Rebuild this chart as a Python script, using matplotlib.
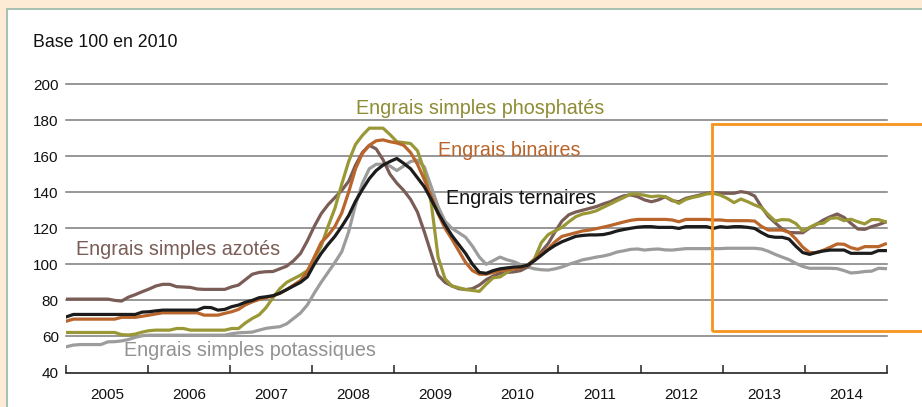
import numpy as np
import matplotlib
matplotlib.use("Agg")
import matplotlib.pyplot as plt
from matplotlib.patches import Rectangle

plt.rcParams['font.family'] = ['Liberation Sans', 'DejaVu Sans']

# ---------------- data (monthly index, base 100 in 2010) ----------------
year_labels = ['2005', '2006', '2007', '2008', '2009', '2010', '2011', '2012', '2013', '2014']
year_starts = [2005, 2006, 2007, 2008, 2009, 2010, 2011, 2012, 2013, 2014, 2015]
y_ticks = [40, 60, 80, 100, 120, 140, 160, 180, 200]

phosphates = [
    62.2, 62.2, 62.2, 62.2, 62.2, 62.2, 62.2, 62.2, 61, 60.8, 61.3, 62.4,
    63.2, 63.5, 63.5, 63.5, 64.4, 64.4, 63.5, 63.5, 63.5, 63.5, 63.5, 63.5,
    64.4, 64.4, 67.5, 70, 72, 76, 81.5, 86.5, 90, 92, 94, 96.5,
    103, 110, 121, 131, 144.5, 157, 166.5, 171.5, 175.5, 175.5, 175.5, 172,
    168, 167.5, 167, 163, 152, 134, 104, 92, 88, 87, 86, 85.5,
    85, 89, 92.5, 93, 95.5, 98, 98.6, 99.5, 103, 112, 116.5, 118.5,
    120.5, 123.6, 126.4, 127.9, 128.6, 129.7, 131.6, 133.4, 135.3, 137.1, 139, 139,
    138.3, 137.5, 137.9, 137.5, 135.7, 133.8, 136, 137.1, 137.9, 139, 139.4, 138.4,
    136.6, 134.2, 136.2, 134.7, 132.9, 131.4, 127.5, 124, 124.8, 124.6, 122.6, 118.5,
    120.5, 122.4, 122.8, 125.5, 125.8, 124.2, 125, 123.6, 122.4, 124.8, 124.8, 123.6,
]
binaires = [
    68.5, 69.6, 69.6, 69.6, 69.6, 69.6, 69.6, 69.6, 70.6, 70.6, 70.6, 71.2,
    71.8, 72.5, 73.1, 73.1, 73.1, 73.1, 73.1, 73.1, 71.8, 71.8, 71.8, 72.8,
    73.7, 75, 77.5, 79.2, 80.5, 81.5, 82.5, 83.9, 86, 88.5, 91, 96,
    104, 112, 116, 121, 128.5, 140, 153, 161.5, 166, 168.5, 169, 168,
    167.3, 166, 162, 155.5, 147, 138, 128, 120, 114, 107.5, 101, 96.5,
    94.5, 94.5, 95.5, 96.5, 97, 97.5, 98, 99.5, 102.5, 106, 108.5, 112.5,
    115.5, 116.5, 117.5, 118.5, 119, 119.8, 120.6, 121.5, 122.5, 123.5, 124.4, 124.9,
    124.9, 124.9, 124.9, 124.9, 124.6, 123.6, 124.9, 124.9, 124.9, 124.9, 124.6, 124.6,
    124.2, 124.2, 124.2, 124.2, 124, 121, 119, 119, 119, 117.8, 114, 109.5,
    106.5, 106.5, 107.8, 109.5, 111.3, 111.1, 109.2, 108.3, 109.8, 109.8, 109.8, 111.3,
]
ternaires = [
    70.9, 72.2, 72.2, 72.2, 72.2, 72.2, 72.2, 72.2, 72.2, 72.2, 72.2, 73.5,
    73.7, 74.2, 74.6, 74.6, 74.6, 74.6, 74.6, 74.6, 76.1, 76, 74.6, 75,
    76.5, 77.4, 79, 80, 81.5, 82, 82.6, 84, 86, 88, 90, 93,
    100, 106, 111, 115.5, 121, 127, 135, 141.5, 147.5, 152, 155, 157,
    158.7, 156, 153, 148, 143, 136, 128.5, 122, 116, 111, 106, 100,
    95.5, 95, 96.5, 97.5, 98, 98.5, 98.6, 99.5, 102, 105, 108, 110.5,
    112.5, 114, 115.5, 116, 116.3, 116.3, 116.5, 117.3, 118.5, 119.3, 120, 120.6,
    120.9, 120.9, 120.5, 120.5, 120.5, 119.9, 120.9, 120.9, 120.9, 120.9, 119.9, 120.9,
    120.5, 120.9, 120.9, 120.5, 119.9, 117.6, 115.6, 115, 115, 114, 110, 106.5,
    105.5, 106.6, 107.4, 107.9, 107.9, 107.9, 106.1, 106.1, 106.1, 106.1, 107.6, 107.6,
]
azotes = [
    80.7, 80.7, 80.7, 80.7, 80.7, 80.7, 80.7, 80, 79.6, 81.8, 83.2, 84.8,
    86.3, 88, 88.9, 88.9, 87.6, 87.4, 87.2, 86.3, 86.1, 86.1, 86.1, 86.1,
    87.5, 88.5, 91.5, 94.5, 95.5, 95.9, 96, 97.5, 99, 102, 106, 113,
    121, 128, 133, 137, 141, 146, 155, 162, 166, 164, 158, 150,
    145, 141, 136, 129, 118, 106, 94, 90, 88, 86.5, 86, 86.5,
    88.5, 91.5, 93.5, 95, 95.5, 95.8, 96.5, 98.5, 102.5, 107, 111.5, 118,
    124, 127.5, 129, 130, 131, 132, 133.5, 134.7, 136.5, 138, 138.5, 137.5,
    135.7, 134.7, 135.7, 137.5, 135.3, 134.7, 136.6, 137.5, 138.4, 139.4, 139.7, 139.5,
    139.4, 139.4, 140.3, 139.7, 137.9, 131.8, 126.5, 123, 119.6, 117.7, 117.5, 117.5,
    120.2, 122.2, 124.6, 126.4, 127.9, 126, 122.7, 119.6, 119.4, 120.9, 122, 123.4,
]
potassiques = [
    54.3, 55.2, 55.5, 55.5, 55.5, 55.5, 57, 57.1, 57.5, 58.3, 59.5, 60.4,
    60.7, 60.7, 60.7, 60.7, 60.7, 60.7, 60.7, 60.7, 60.7, 60.7, 60.7, 60.7,
    61.5, 62, 62.2, 62.4, 63.5, 64.5, 65, 65.4, 67, 70, 73, 77.5,
    84, 90, 95.5, 101, 107, 118, 133, 145, 153, 155.5, 155.5, 154.5,
    152, 154.5, 157, 157.8, 154, 143, 132, 124, 120, 117.5, 115, 110,
    104, 100, 102, 104, 102.5, 101.5, 99.8, 98.5, 97.5, 97, 96.8, 97.5,
    98.5, 100, 101.2, 102.5, 103.2, 104, 104.6, 105.5, 106.8, 107.5, 108.3, 108.5,
    107.9, 108.3, 108.5, 108, 107.9, 108.3, 108.7, 108.7, 108.7, 108.7, 108.7, 108.7,
    108.9, 108.9, 108.9, 108.9, 108.9, 108.5, 107.2, 105.5, 104, 102.6, 100.5, 98.8,
    97.8, 97.8, 97.8, 97.8, 97.6, 96.5, 95.2, 95.5, 96, 96.2, 97.8, 97.6,
]

# monthly positions Jan 2005 .. Dec 2014
months = np.linspace(2005.01, 2014.98, len(phosphates))

# ---------------- figure ----------------
W, H = 922, 407
fig = plt.figure(figsize=(W / 100, H / 100), dpi=100)
fig.patch.set_facecolor('#FDEBD6')


def fx(x):
    return x / W


def fy(y):
    return 1 - y / H


# white panel with greenish border (drawn behind the axes)
fig.patches.append(Rectangle((fx(7), -0.1), 2, fy(9) + 0.1, transform=fig.transFigure,
                             facecolor='white', edgecolor='#9FBCAD', lw=1.3, zorder=-5))

ax = fig.add_axes([fx(65.7), fy(372.5), (887 - 65.7) / W, (372.5 - 84) / H])
ax.set_zorder(1)
ax.set_facecolor('none')
ax.set_xlim(2005, 2015)
ax.set_ylim(40, 200)

for s in ['left', 'right', 'top']:
    ax.spines[s].set_visible(False)
ax.spines['bottom'].set_color('#222222')
ax.spines['bottom'].set_linewidth(1.2)
ax.spines['bottom'].set_zorder(10)

for yv in y_ticks[1:]:
    ax.axhline(yv, color='#7A7A7A', lw=1.1, zorder=1, clip_on=False)

ax.set_yticks(y_ticks)
ax.set_yticklabels([str(v) for v in y_ticks])
ax.tick_params(axis='y', length=0, pad=5, labelsize=11, colors='#111111')

ax.set_xticks(year_starts)
ax.set_xticklabels([''] * len(year_starts))
ax.set_xticks([y + 0.5 for y in year_starts[:-1]], minor=True)
ax.set_xticklabels(year_labels, minor=True)
ax.tick_params(axis='x', which='major', direction='in', length=5.5, width=1.1, color='#222222')
ax.tick_params(axis='x', which='minor', length=0, pad=11, labelsize=11, labelcolor='#111111')

c_phos = '#9A9836'
c_bin = '#B9652B'
c_ter = '#1C1C1C'
c_azo = '#7A5D56'
c_pot = '#9C9C9C'

lw = 2.3
ax.plot(months, potassiques, color=c_pot, lw=lw, zorder=2, solid_joinstyle='round')
ax.plot(months, azotes, color=c_azo, lw=lw, zorder=3, solid_joinstyle='round')
ax.plot(months, phosphates, color=c_phos, lw=lw, zorder=4, solid_joinstyle='round')
ax.plot(months, binaires, color=c_bin, lw=lw, zorder=5, solid_joinstyle='round')
ax.plot(months, ternaires, color=c_ter, lw=lw, zorder=6, solid_joinstyle='round')

# texts
fig.text(fx(33), fy(47), 'Base 100 en 2010', fontsize=12.8, color='#111111', va='baseline')
fs = 14.2
fig.text(fx(356), fy(114.5), 'Engrais simples phosphatés', fontsize=fs, color='#8E8C34', va='baseline')
fig.text(fx(438), fy(155.5), 'Engrais binaires', fontsize=fs, color=c_bin, va='baseline')
fig.text(fx(446), fy(203.5), 'Engrais ternaires', fontsize=fs, color='#111111', va='baseline')
fig.text(fx(76), fy(255), 'Engrais simples azotés', fontsize=fs, color=c_azo, va='baseline')
fig.text(fx(124), fy(356.5), 'Engrais simples potassiques', fontsize=fs, color='#929292', va='baseline')

# orange highlight box
fig.patches.append(Rectangle((fx(712), fy(331)), 1, (331 - 124) / H, transform=fig.transFigure,
                             fill=False, edgecolor='#F7941D', lw=2.0, zorder=20))

fig.savefig('out.png', dpi=100, facecolor=fig.get_facecolor())
